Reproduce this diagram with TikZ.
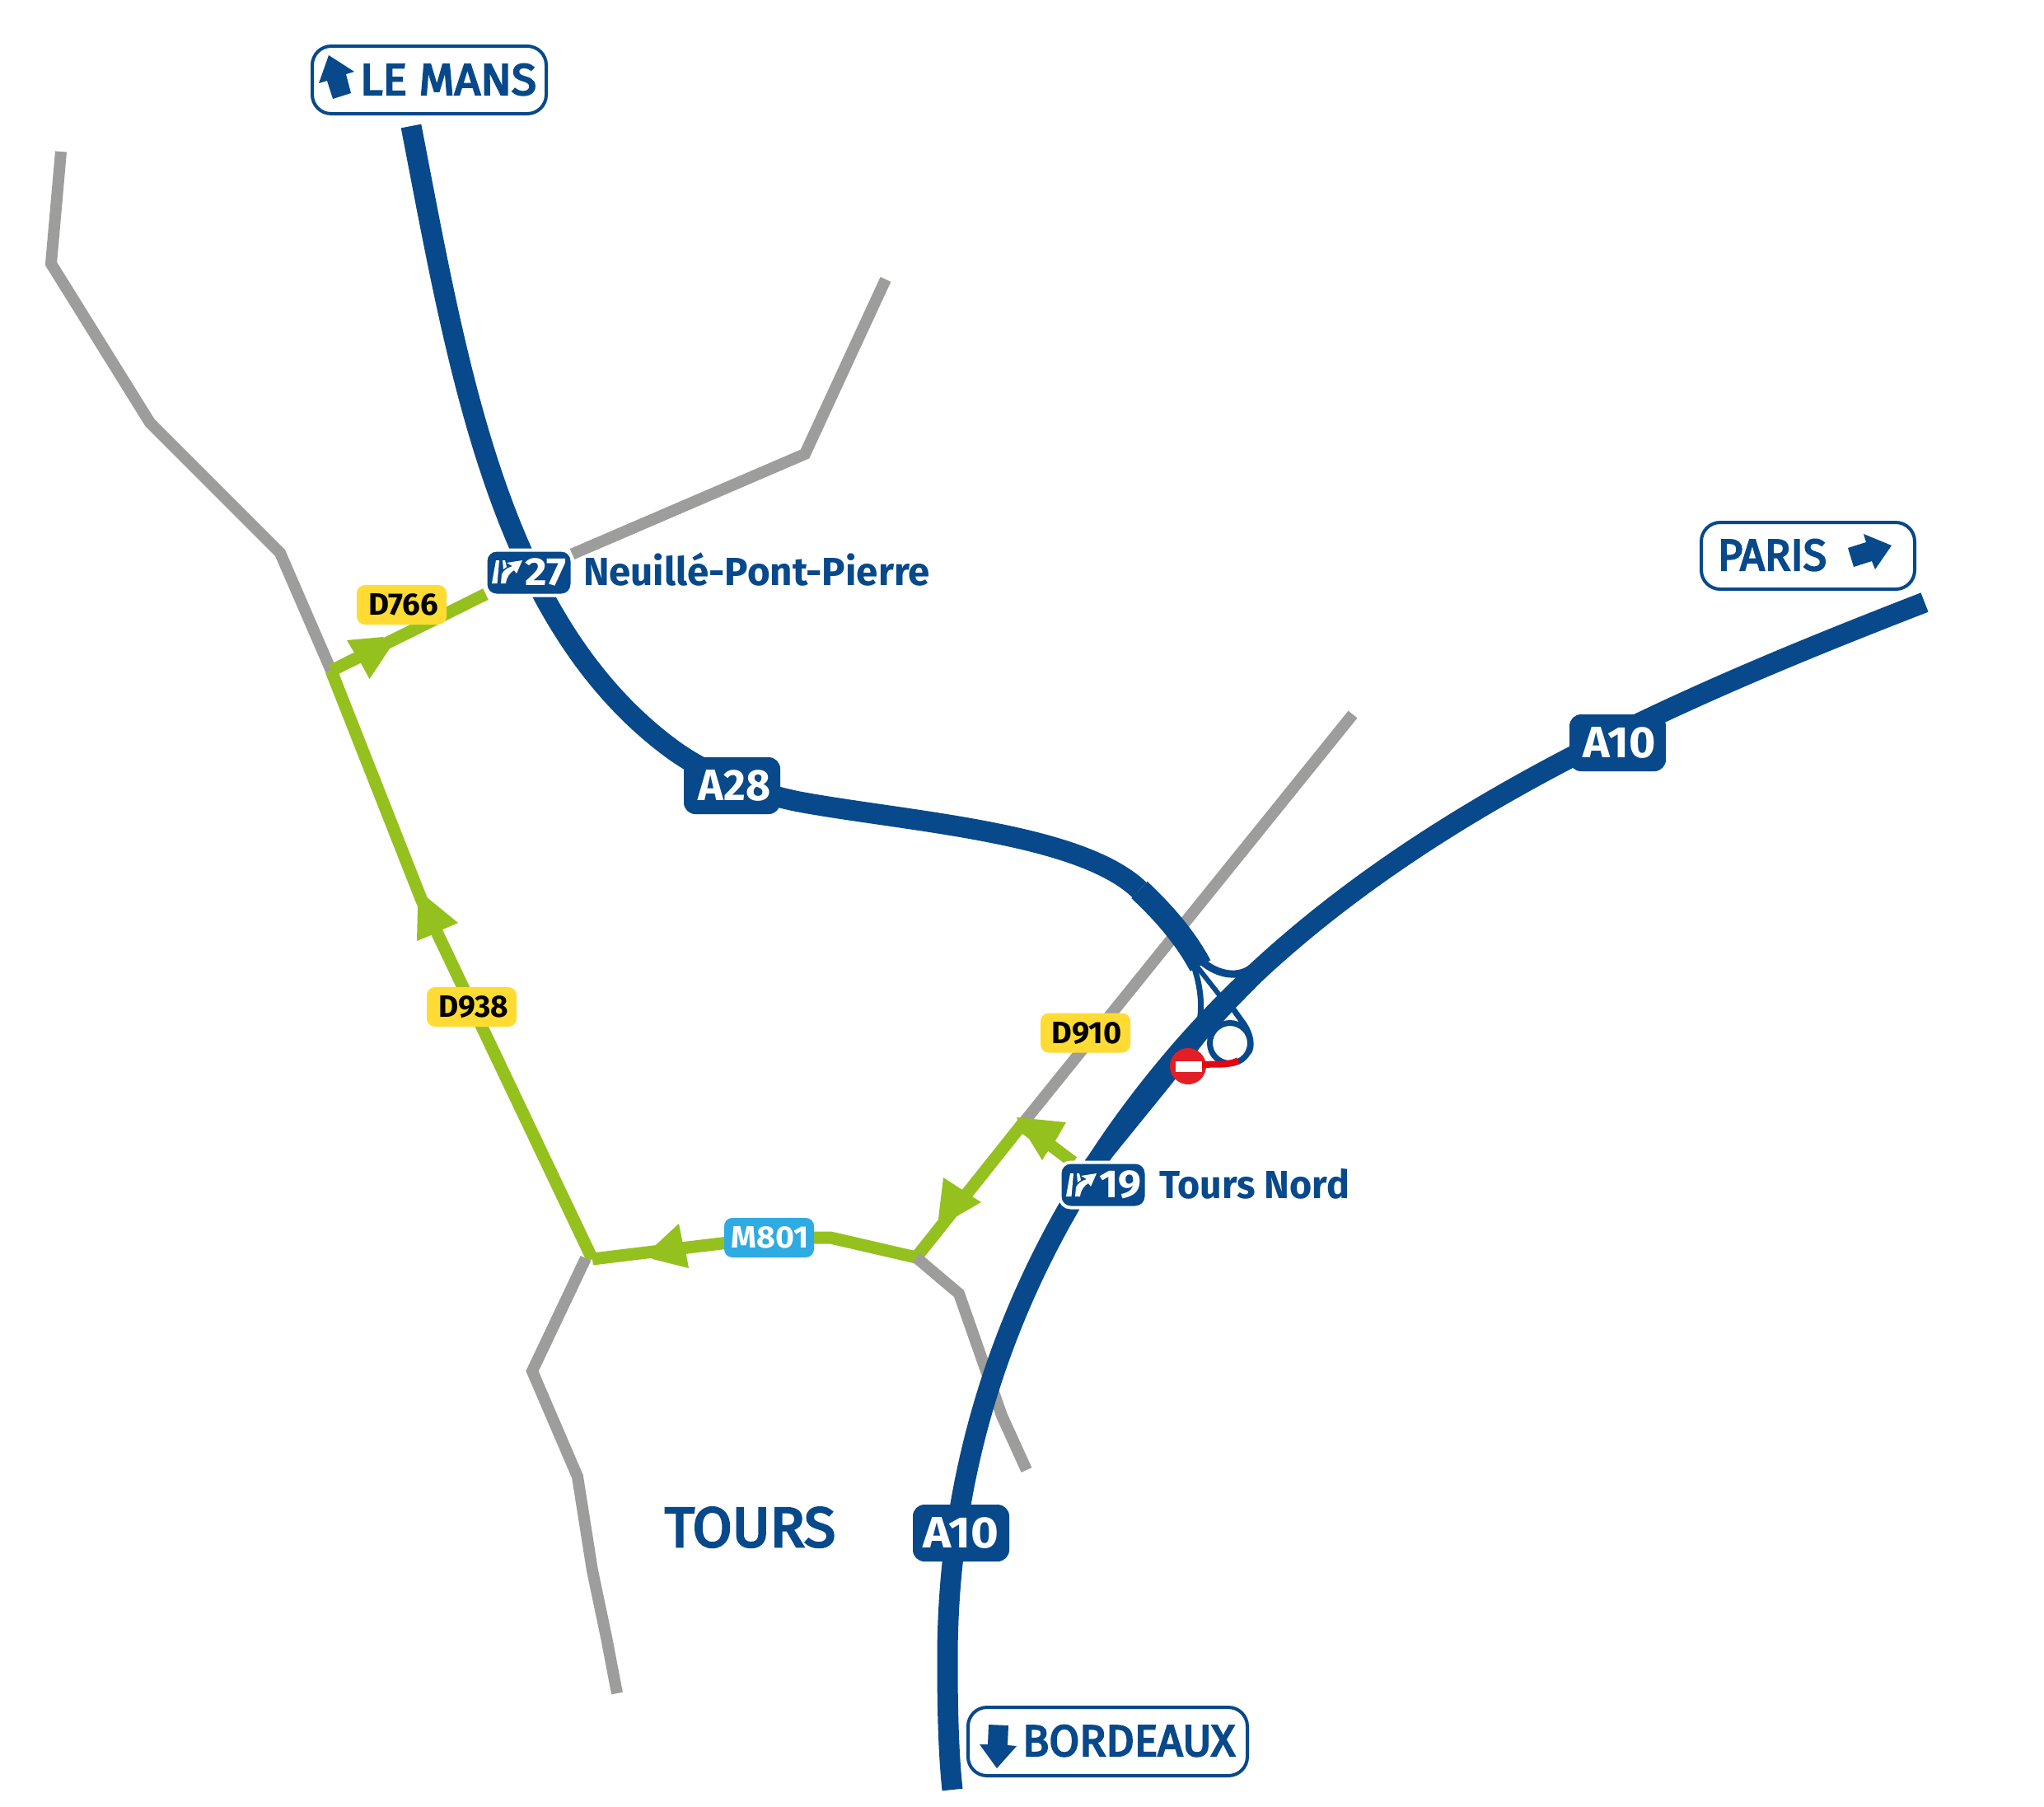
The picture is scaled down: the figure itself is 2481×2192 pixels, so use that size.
\documentclass[tikz,border=0pt]{standalone}
\usepackage{fontspec}
\setmainfont{Fira Sans}
\newfontfamily\semifont[FakeBold=4]{Fira Sans}
\usetikzlibrary{backgrounds}
\pgfdeclarelayer{roads}
\pgfsetlayers{roads,main}
\newdimen\uu \uu=0.02cm
\definecolor{roadblue}{HTML}{07498A}
\definecolor{roadgreen}{HTML}{95C11F}
\definecolor{roadgrey}{HTML}{9D9D9C}
\definecolor{signyellow}{HTML}{FFDB33}
\definecolor{signcyan}{HTML}{2FABE3}
\definecolor{stopred}{HTML}{E31E24}
\definecolor{linkred}{HTML}{E30613}
\newcommand{\fittext}[3]{\resizebox{#1\uu}{\height}{\fontsize{#2pt}{#2pt}\selectfont #3}}
\tikzset{
  x=0.02cm,y=-0.02cm,
  motorway/.style={draw=roadblue,line width=25\uu,line cap=butt,line join=round},
  greyroad/.style={draw=roadgrey,line width=14\uu,line cap=butt,line join=miter},
  greenroad/.style={draw=roadgreen,line width=15\uu,line cap=butt,line join=miter},
  dirarrow/.style={fill=roadgreen,draw=none},
  ramp/.style={draw=roadblue,line width=7\uu,line cap=butt},
  plate/.style={rounded corners=14\uu,fill=roadblue,text=white,inner sep=0pt,outer sep=0pt,minimum width=117\uu,minimum height=69\uu},
  exitplate/.style={rounded corners=13\uu,fill=roadblue,draw=white,line width=4\uu,inner sep=0pt,outer sep=0pt,minimum width=105\uu,minimum height=55\uu},
  deptag/.style={rounded corners=10\uu,fill=signyellow,text=black,inner sep=0pt,outer sep=0pt,minimum width=109\uu,minimum height=48\uu},
  metrotag/.style={rounded corners=10\uu,fill=signcyan,text=white,inner sep=0pt,outer sep=0pt,minimum width=109\uu,minimum height=48\uu},
  destsign/.style={rounded corners=23\uu,draw=roadblue,fill=white,line width=4\uu,inner sep=0pt,outer sep=0pt},
  bluetext/.style={text=roadblue,inner sep=0pt,outer sep=0pt,anchor=base west},
  exiticon/.pic={
    \fill[white] (6,1) -- (10,1) -- (7.5,29) -- (1,29) -- cycle;
    \fill[white] (12,29) -- (18,29) .. controls (19,21) and (23,16) .. (28,13)
       -- (31,17) -- (38,1) -- (19,4) -- (26,8) .. controls (20,10) and (15,13) .. (13,18) -- cycle;
    \fill[white] (14,1) -- (17,1) -- (19,9) -- (15,12) -- cycle;
  }
}
\begin{document}
\begin{tikzpicture}
\useasboundingbox (0,0) rectangle (2481,2192);
% junctions and free ends
\coordinate (gA) at (74,184);
\coordinate (gB) at (62,320);
\coordinate (gC) at (182,513);
\coordinate (gD) at (340,671);
\coordinate (jNW) at (402,814);
\coordinate (bendW) at (512,1093);
\coordinate (jSW) at (719,1528);
\coordinate (bendM) at (1008,1502);
\coordinate (jSE) at (1112,1526);
\coordinate (jNE) at (1241,1364);
\coordinate (gE) at (1642,867);
\coordinate (gF) at (977,551);
\coordinate (gG) at (1075,339);
\coordinate (gH) at (646,1664);
\coordinate (gI) at (701,1792);
\coordinate (gJ) at (719,1906);
\coordinate (gK) at (736,1987);
\coordinate (gL) at (749,2055);
\coordinate (gM) at (1164,1570);
\coordinate (gN) at (1216,1718);
\coordinate (gO) at (1246,1784);
% plates
\node[plate] (a28) at (888.5,953.5) {\kern6\uu\fittext{88}{30.4}{\bfseries A28}};
\node[plate] (a10n) at (1963.5,901.5) {\kern4\uu\fittext{88}{30.4}{\bfseries A10}};
\node[plate] (a10s) at (1166.5,1860.5) {\fittext{92}{30.4}{\bfseries A10}};
\node[exitplate] (ex27) at (642,695) {};
\node[exitplate] (ex19) at (1339,1438) {};
\pic at (596,679) {exiticon};
\pic at (1293,1423) {exiticon};
\node[text=white,inner sep=0pt,anchor=base west] (no27) at (637,710) {\fittext{50}{27.1}{\bfseries 27}};
\node[text=white,inner sep=0pt,anchor=base west] (no19) at (1334,1453) {\fittext{51}{27.1}{\bfseries 19}};
\node[bluetext] (neuille) at (708,710) {\fittext{421}{27.1}{\bfseries Neuillé-Pont-Pierre}};
\node[bluetext] (toursnord) at (1407,1454) {\fittext{231}{27.1}{\bfseries Tours Nord}};
\node[deptag] (d766) at (487.5,734) {\kern4\uu\fittext{85}{21.4}{\bfseries D766}};
\node[deptag] (d938) at (572.5,1222) {\kern4\uu\fittext{85}{21.4}{\bfseries D938}};
\node[deptag] (d910) at (1317.5,1253.5) {\kern3\uu\fittext{85}{21.4}{\bfseries D910}};
\node[metrotag] (m801) at (933.5,1502) {\kern2\uu\fittext{94}{21.4}{\bfseries M801}};
\node[bluetext] (tours) at (807,1877) {\fittext{207}{38.7}{\semifont TOURS}};
% destination signs
\node[destsign,minimum width=284\uu,minimum height=82\uu] (lemans) at (521,97) {};
\node[destsign,minimum width=259\uu,minimum height=81\uu] (paris) at (2194.5,674.5) {};
\node[destsign,minimum width=339\uu,minimum height=83\uu] (bordeaux) at (1344.5,2113.5) {};
\node[bluetext] (lemanst) at (437,115) {\fittext{214}{30.4}{\semifont LE MANS}};
\node[bluetext] (parist) at (2085,692) {\fittext{132}{30.4}{\semifont PARIS}};
\node[bluetext] (bordeauxt) at (1241,2131) {\fittext{258}{30.4}{\semifont BORDEAUX}};
\fill[roadblue] (399,67) -- (430,87) -- (420,90) -- (426,113) -- (404,120) -- (397,98) -- (387,101) -- cycle;
\fill[roadblue] (2243,665) -- (2265,658) -- (2262,648) -- (2296,662) -- (2276,691) -- (2272,681) -- (2250,688) -- cycle;
\fill[roadblue] (1200,2093) -- (1224,2094) -- (1223,2118) -- (1234,2119) -- (1210,2146) -- (1189,2117) -- (1199,2117) -- cycle;
% roundabout and no-entry
\node[circle,draw=roadblue,line width=7\uu,minimum size=49\uu,inner sep=0pt,outer sep=0pt] (rb) at (1493,1266) {};
\node[circle,fill=stopred,minimum size=44\uu,inner sep=0pt,outer sep=0pt] (noentry) at (1442,1294) {};
\draw[line width=8\uu,draw=linkred] (noentry.center) .. controls (1470,1289) and (1488,1295) .. (1503,1287);
\node[fill=white,minimum width=32\uu,minimum height=13\uu,inner sep=0pt,outer sep=0pt] (bar) at (1443,1294.5) {};
\begin{pgfonlayer}{roads}
% grey roads, upper
\draw[greyroad] (gA) -- (gB) -- (gC) -- (gD) -- (jNW);
\draw[greyroad] (ex27) -- (gF) -- (gG);
\draw[greyroad] (gE) -- (jNE);
% green roads
\draw[greenroad] (jNW) -- (ex27);
\draw[greenroad] (jNW) -- (bendW) -- (jSW);
\draw[greenroad] (jSW) -- (m801.center) -- (bendM) -- (jSE);
\draw[greenroad] (jSE) -- (jNE);
\draw[greenroad] (jNE) -- (ex19);
% direction arrows
\fill[dirarrow] (421,777) -- (465,773) -- (475,784) -- (448.5,824) -- (437,803) -- (430,792) -- cycle;
\fill[dirarrow] (517,1088) -- (556,1120) -- (535,1129) -- (523,1135) -- (506,1142) -- (507,1100) -- cycle;
\fill[dirarrow] (824,1485) -- (829,1510) -- (833,1523) -- (836,1539) -- (792,1528) -- (786,1520) -- cycle;
\fill[dirarrow] (1145,1429) -- (1168,1444) -- (1180,1452) -- (1191,1459) -- (1158,1478) -- (1139,1479) -- cycle;
\fill[dirarrow] (1234,1356) -- (1294,1362) -- (1279,1388) -- (1270,1400) -- (1265,1408) -- (1249,1382) -- (1241,1376) -- cycle;
% grey roads, lower
\draw[greyroad] (jSW) ++(-8,-1) -- (gH) -- (gI) -- (gJ) -- (gK) -- (gL);
\draw[greyroad] (jSE) -- (gM) -- (gN) -- (gO);
% motorways
\draw[motorway] (499,153) .. controls (556,447) and (605,755) .. (817,910)
  .. controls (860,941) and (915,962) .. (970,973)
  .. controls (1100,997) and (1310,1010) .. (1383,1080);
\draw[motorway,line width=28\uu] (1383,1080) .. controls (1415,1110) and (1440,1140) .. (1457,1172);
\draw[motorway] (2336,731) .. controls (2011,857) and (1671,1005) .. (1440,1267)
  .. controls (1262,1469) and (1150,1723) .. (1150,2013)
  .. controls (1150,2070) and (1151,2125) .. (1156,2172);
% widened carriageway at the interchange
\fill[roadblue] (1513,1178) -- (1450,1240) -- (1420,1277) -- (1317,1408) -- (1347,1408) -- (1420,1318) -- (1463,1263) -- (1498,1225) -- (1545,1177) -- cycle;
% interchange ramps
\draw[ramp,line width=9\uu] (1456,1164) .. controls (1472,1180) and (1500,1190) .. (1520,1174);
\draw[ramp,line width=6\uu] (1449,1168) -- (1482,1210);
\draw[ramp] (1447,1166) .. controls (1456,1192) and (1460,1215) .. (1456,1240);
\draw[ramp] (1495,1222) -- (1510,1243) .. controls (1518,1255) and (1521,1270) .. (1515,1278);
\end{pgfonlayer}
\end{tikzpicture}
\end{document}
